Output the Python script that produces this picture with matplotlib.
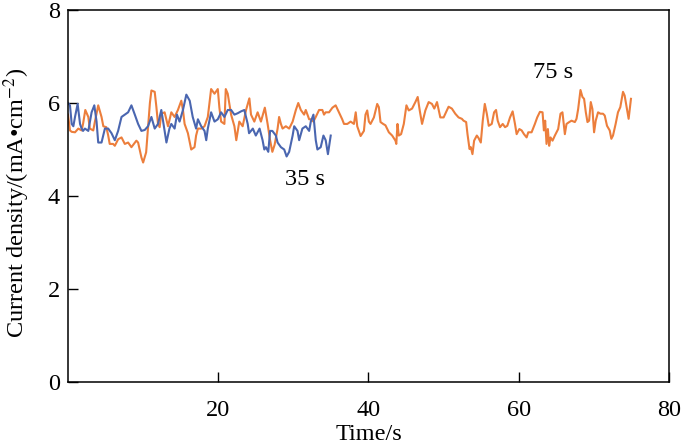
import glob
import numpy as np
import matplotlib
matplotlib.use("Agg")
import matplotlib.pyplot as plt
from matplotlib import font_manager

# values
t_35 = [0.0, 0.26, 0.49, 0.71, 0.93, 1.28, 1.6, 1.81, 2.0, 2.25, 2.7, 3.14, 3.5, 3.8,
        4.02, 4.46, 4.91, 5.35, 5.79, 6.23, 6.67, 7.12, 7.56, 8.0, 8.44, 8.89, 9.33,
        9.77, 10.21, 10.65, 11.1, 11.54, 11.98, 12.42, 12.86, 13.1, 13.5, 13.75, 14.19,
        14.5, 14.85, 15.3, 15.75, 16.2, 16.6, 17.05, 17.29, 17.73, 18.17, 18.4, 18.61,
        19.05, 19.5, 19.94, 20.38, 20.82, 21.26, 21.71, 22.15, 22.59, 23.03, 23.47,
        23.92, 24.1, 24.6, 25.0, 25.5, 25.9, 26.13, 26.35, 26.66, 26.9, 27.2, 27.67,
        27.9, 28.34, 28.78, 29.1, 29.44, 29.9, 30.11, 30.55, 30.77, 31.2, 31.65, 32.1,
        32.32, 32.67, 32.98, 33.2, 33.64, 34.0, 34.3, 34.6, 34.97]
j_35 = [6.0, 5.95, 5.55, 5.5, 5.7, 5.98, 5.55, 5.45, 5.4, 5.45, 5.4, 5.8, 5.95, 5.6,
        5.15, 5.15, 5.45, 5.45, 5.35, 5.2, 5.4, 5.7, 5.75, 5.8, 5.95, 5.75, 5.55,
        5.4, 5.42, 5.5, 5.7, 5.45, 5.55, 5.85, 5.4, 5.15, 5.45, 5.55, 5.45,
        5.75, 5.6, 5.85, 6.18, 6.05, 5.7, 5.45, 5.65, 5.5, 5.4, 5.2, 5.45,
        5.8, 5.6, 5.65, 5.8, 5.7, 5.85, 5.85, 5.75, 5.78, 5.82, 5.85,
        5.55, 5.35, 5.45, 5.3, 5.45, 5.2, 5.0, 5.05, 4.95, 5.4, 5.4, 5.3,
        5.15, 5.05, 5.0, 4.85, 4.95, 5.3, 5.5, 5.4, 5.2, 5.45, 5.5, 5.4,
        5.6, 5.75, 5.2, 5.0, 5.05, 5.3, 5.2, 4.9, 5.3]

t_75 = [0.0, 0.26, 0.49, 0.93, 1.37, 1.81, 2.0, 2.3, 2.7, 2.9, 3.36, 3.58, 4.02, 4.46,
        4.7, 5.1, 5.35, 5.55, 6.0, 6.23, 6.67, 7.12, 7.56, 8.0, 8.44, 9.1, 9.33, 9.77,
        10.0, 10.4, 10.65, 10.9, 11.1, 11.54, 11.76, 11.98, 12.2, 12.42, 12.86, 13.31,
        13.75, 14.19, 14.63, 15.08, 15.3, 15.52, 15.96, 16.4, 16.84, 17.05, 17.29,
        17.73, 18.17, 18.61, 19.05, 19.5, 19.94, 20.15, 20.38, 20.82, 21.0, 21.26,
        21.71, 22.15, 22.4, 22.8, 23.25, 23.7, 24.14, 24.36, 24.8, 25.24, 25.68, 26.2,
        26.57, 26.9, 27.2, 27.5, 27.9, 28.1, 28.34, 28.56, 29.0, 29.44, 29.9, 30.33,
        30.65, 30.99, 31.43, 31.65, 32.1, 32.32, 32.67, 32.98, 33.42, 33.86, 34.08,
        34.3, 34.75, 35.2, 35.63, 36.07, 36.5, 36.74, 37.18, 37.62, 38.06, 38.3, 38.5,
        38.95, 39.39, 39.6, 39.83, 40.05, 40.27, 40.72, 41.16, 41.38, 41.6, 41.95,
        42.26, 42.71, 43.15, 43.59, 43.7, 43.86, 44.03, 44.34, 44.7, 45.05, 45.36,
        45.8, 46.24, 46.55, 46.82, 47.13, 47.57, 48.01, 48.45, 48.76, 49.12, 49.56,
        50.0, 50.66, 51.1, 51.55, 51.99, 52.43, 52.65, 53.0, 53.18, 53.45, 53.62,
        53.84, 54.06, 54.42, 54.64, 54.95, 55.21, 55.48, 55.75, 56.01, 56.41, 56.72,
        56.98, 57.2, 57.51, 57.87, 58.18, 58.48, 58.84, 59.19, 59.5, 59.72, 60.08,
        60.39, 60.7, 61.05, 61.27, 61.71, 62.15, 62.46, 62.82, 63.17, 63.35, 63.52,
        63.7, 63.88, 64.05, 64.23, 64.5, 64.81, 65.25, 65.56, 65.82, 66.14, 66.36,
        66.72, 67.03, 67.47, 67.69, 67.91, 68.22, 68.48, 68.7, 68.93, 69.15, 69.37,
        69.59, 69.81, 70.03, 70.25, 70.56, 70.87, 71.22, 71.45, 71.75, 72.11, 72.33,
        72.55, 72.9, 73.21, 73.52, 73.88, 74.1, 74.32, 74.63, 74.94]
j_75 = [5.75, 5.41, 5.38, 5.37, 5.45, 5.41, 5.55, 5.85, 5.7, 5.45, 5.41, 5.6, 5.95, 5.7,
        5.5, 5.48, 5.3, 5.12, 5.12, 5.08, 5.22, 5.26, 5.12, 5.15, 5.05, 5.19, 5.15, 4.83,
        4.72, 4.94, 5.48, 6.0, 6.27, 6.24, 5.92, 5.55, 5.48, 5.77, 5.8, 5.5,
        5.8, 5.7, 5.85, 6.05, 5.85, 5.55, 5.35, 5.0, 5.05, 5.3, 5.45,
        5.45, 5.5, 5.7, 6.3, 6.2, 6.3, 5.9, 5.6, 5.55, 6.3, 6.2,
        5.75, 5.5, 5.2, 5.6, 5.5, 5.85, 6.1, 5.75, 5.6, 5.8, 5.6, 5.9,
        5.55, 5.2, 4.95, 5.1, 5.45, 5.7, 5.55, 5.45, 5.5, 5.45, 5.6, 5.85,
        6.0, 5.85, 5.75, 5.85, 5.65, 5.65, 5.6, 5.7, 5.85, 5.85, 5.75,
        5.8, 5.8, 5.9, 5.95, 5.8, 5.65, 5.55, 5.55, 5.6, 5.55, 5.8, 5.5,
        5.29, 5.4, 5.75, 5.84, 5.6, 5.55, 5.69, 5.98, 5.91, 5.59, 5.55,
        5.52, 5.37, 5.3, 5.19, 5.12, 5.55, 5.3, 5.33, 5.55, 5.95, 5.84,
        5.88, 6.02, 6.13, 5.84, 5.55, 5.84, 6.02, 5.98, 5.88, 6.02, 5.69,
        5.69, 5.92, 5.88, 5.77, 5.69, 5.66, 5.62, 5.59, 5.33, 5.01, 5.05,
        4.9, 5.19, 5.3, 5.25, 5.15, 5.62, 5.98, 5.77, 5.51, 5.55, 5.8,
        5.85, 5.62, 5.48, 5.55, 5.48, 5.51, 5.69, 5.82, 5.55, 5.33, 5.44,
        5.41, 5.33, 5.26, 5.37, 5.37, 5.55, 5.69, 5.81, 5.8, 5.41, 5.62,
        5.12, 5.44, 5.08, 5.26, 5.19, 5.3, 5.44, 5.77, 5.8, 5.33, 5.55,
        5.59, 5.62, 5.59, 5.66, 5.87, 6.28, 6.13, 6.09, 5.8, 5.59, 5.62,
        6.02, 5.87, 5.37, 5.62, 5.8, 5.77, 5.77, 5.73, 5.51, 5.41, 5.23,
        5.3, 5.55, 5.8, 5.91, 6.24, 6.16, 5.95, 5.66, 6.09]

x_ticks = [20, 40, 60, 80]
y_ticks = [0, 2, 4, 6, 8]

# make sure the Liberation serif files are registered
for f in glob.glob('/usr/share/fonts/**/LiberationSerif*.ttf', recursive=True) + \
         glob.glob('/usr/local/share/fonts/**/LiberationSerif*.ttf', recursive=True):
    font_manager.fontManager.addfont(f)

plt.rcParams['font.family'] = 'serif'
plt.rcParams['font.serif'] = ['Liberation Serif', 'STIXGeneral', 'DejaVu Serif']
plt.rcParams['mathtext.fontset'] = 'stix'

fig = plt.figure(figsize=(6.85, 4.45), dpi=100)
ax = fig.add_axes([0.0993, 0.1416, 0.8773, 0.8359])

ax.plot(t_75, j_75, color='#ec7e3c', lw=1.5, solid_joinstyle='round')
ax.plot(t_35, j_35, color='#4a66b0', lw=1.5, solid_joinstyle='round')

ax.set_xlim(0, 80)
ax.set_ylim(0, 8)
ax.set_xticks(x_ticks)
ax.set_yticks(y_ticks)
ax.tick_params(direction='in', length=7, width=1, labelsize=17.5)
ax.tick_params(axis='x', pad=13)
ax.tick_params(axis='y', pad=6)
for s in ax.spines.values():
    s.set_linewidth(1.1)

ax.set_xlabel('Time/s', fontsize=17.5, labelpad=2)
ax.set_ylabel('Current density/(mA\u2022cm$^{-2}$)', fontsize=17.5)
ax.yaxis.set_label_coords(-0.06, 0.48)

ax.text(31.5, 4.35, '35 s', fontsize=17.5, ha='center', va='center')
ax.text(64.6, 6.65, '75 s', fontsize=17.5, ha='center', va='center')

fig.savefig('out.png', dpi=100)
